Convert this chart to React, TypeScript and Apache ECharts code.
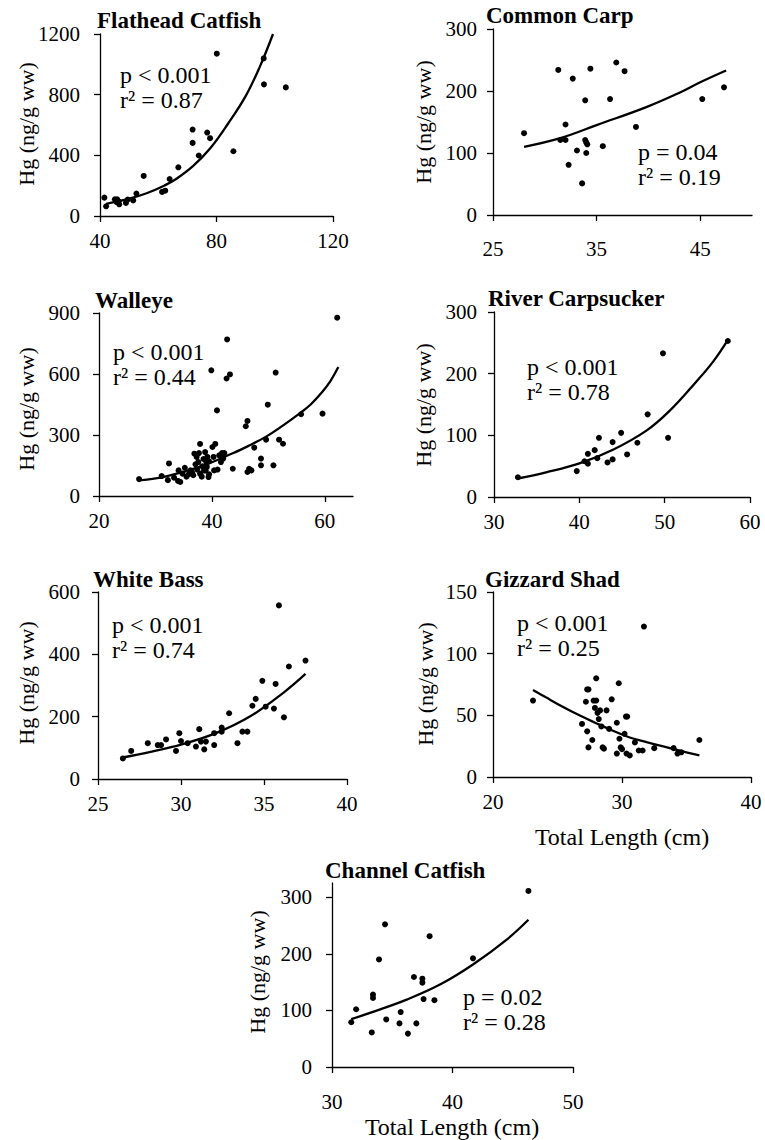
import React, { useEffect, useRef } from 'react';
import * as echarts from 'echarts';

// ---------- data (Total length cm, Hg ng/g ww) ----------
const flatheadPts = [[41.5,121],[42.1,64],[45.1,110],[45.7,92],[45.9,110],[46.4,97],[46.6,77],[48.9,86],[49.5,108],[51.4,103],[52.5,148],[55.0,264],[61.3,159],[62.4,167],[63.9,244],[66.9,321],[71.8,570],[71.8,482],[73.9,399],[76.8,550],[77.8,513],[80.1,1070],[85.8,427],[96.2,1039],[96.3,868],[103.8,848]];
const flatheadTrend = [[42.1,80],[50,114],[56,150],[62,200],[66,242],[72,330],[78,450],[84,610],[90,790],[95,990],[99.4,1200]];

const carpPts = [[28.0,132],[31.3,234],[31.5,121],[32.0,121],[32.0,146],[32.3,81],[32.7,220],[33.1,104],[33.6,51],[33.9,185],[33.9,121],[34.0,100],[34.0,117],[34.1,114],[34.4,236],[35.6,111],[36.3,187],[36.9,246],[37.7,232],[38.8,142],[44.7,302],[45.2,187],[47.3,206]];
const carpTrend = [[28,110],[31.5,124],[35,145],[39.8,174],[43.1,198],[45,214],[47.5,233]];

const walleyePts = [[27.1,83],[31.1,98],[32.4,160],[32.2,78],[33.3,90],[34.0,74],[34.4,69],[34.1,126],[34.8,110],[35.2,139],[35.5,95],[35.9,107],[36.2,126],[36.5,115],[36.7,102],[36.9,208],[37.1,156],[37.3,192],[37.4,130],[37.6,167],[37.7,211],[37.9,256],[37.9,110],[38.2,95],[38.3,146],[38.5,182],[38.6,125],[38.8,216],[38.9,126],[39.0,167],[39.1,143],[39.2,192],[39.4,93],[39.5,107],[39.5,170],[39.9,618],[40.1,241],[40.3,192],[40.4,126],[40.6,256],[40.9,421],[41.0,130],[41.3,200],[41.6,167],[41.8,211],[42.0,184],[42.2,211],[42.6,578],[42.7,770],[43.2,598],[43.7,134],[46.0,343],[46.3,369],[46.3,118],[46.6,134],[47.0,126],[47.5,238],[48.7,184],[48.7,151],[49.6,277],[49.9,449],[50.9,151],[51.3,607],[51.9,277],[52.6,257],[55.8,402],[59.6,405],[62.2,877]];
const walleyeTrend = [[27.1,77],[31.9,97],[37.8,143],[43.7,210],[46.6,248],[49.6,292],[52.5,345],[55.5,405],[57.5,450],[59.5,510],[61,565],[62.4,634]];

const carpsuckerPts = [[32.8,32],[39.7,42],[40.6,58],[41.0,70],[41.0,54],[41.8,76],[42.1,63],[42.3,96],[43.3,56],[43.9,89],[43.9,61],[44.9,104],[45.6,69],[46.8,88],[48.0,134],[49.8,233],[50.4,96],[57.4,253]];
const carpsuckerTrend = [[32.8,30],[36.1,40],[40.1,55],[44,77],[47.9,108],[50.6,140],[53.7,187],[55.7,220],[57.5,257]];

const whiteBassPts = [[26.5,66],[27.0,90],[28.0,115],[28.6,109],[28.8,109],[29.1,127],[29.7,90],[29.9,147],[30.0,122],[30.4,115],[30.9,104],[31.1,160],[31.2,120],[31.4,95],[31.5,120],[32.0,109],[32.0,147],[32.45,165],[32.45,152],[32.9,211],[33.4,115],[33.7,152],[34.0,152],[34.3,235],[34.5,257],[34.9,315],[35.1,232],[35.6,226],[35.7,305],[35.9,557],[36.2,198],[36.5,361],[37.5,380]];
const whiteBassTrend = [[26.5,69],[28.1,86],[30.1,112],[32.1,147],[34.2,202],[36.2,278],[37.5,337]];

const gizzardPts = [[23.1,62],[26.9,43],[27.2,61],[27.3,37],[27.3,71],[27.4,71],[27.4,24],[27.7,30],[27.8,62],[28.0,80],[28.0,62],[27.9,56],[28.1,52],[28.2,47],[28.3,54],[28.4,41],[28.5,24],[28.6,23],[28.8,54],[29.0,39],[29.2,63],[29.6,44],[29.6,19],[29.75,76],[29.8,31],[29.9,24],[30.0,22.6],[30.2,35],[30.3,49],[30.4,49],[30.35,19],[30.6,17.5],[31.0,28],[31.3,21.5],[31.6,21.5],[31.7,122],[32.5,23.4],[34.0,23.4],[34.3,19],[34.6,20],[36.0,30]];
const gizzardTrend = [[23.1,70.6],[24.1,64.6],[25.4,57],[26.7,50],[28,43.6],[29.3,37.5],[30.6,32],[31.9,28.3],[33.2,24.8],[34.5,21.3],[36,17.5]];

const channelPts = [[31.6,79],[32.0,102],[33.3,61],[33.4,128],[33.4,122],[33.9,190],[34.4,252],[34.5,84],[35.6,77],[35.7,97],[36.3,59],[36.8,159],[37.0,77],[37.5,156],[37.5,149],[37.6,120],[38.1,231],[38.5,118],[41.7,192],[46.3,311]];
const channelTrend = [[31.6,84.5],[33.4,97.4],[36.2,119],[39,146],[41.7,181],[44.5,225],[46.3,260]];

const titles = ['Flathead Catfish', 'Common Carp', 'Walleye', 'River Carpsucker', 'White Bass', 'Gizzard Shad', 'Channel Catfish'];
const pValues = ['p < 0.001', 'p = 0.04', 'p < 0.001', 'p < 0.001', 'p < 0.001', 'p < 0.001', 'p = 0.02'];
const r2Values = ['0.87', '0.19', '0.44', '0.78', '0.74', '0.25', '0.28'];
const xTickLabels = [[40, 80, 120], [25, 35, 45], [20, 40, 60], [30, 40, 50, 60], [25, 30, 35, 40], [20, 30, 40], [30, 40, 50]];
const yTickLabels = [[0, 400, 800, 1200], [0, 100, 200, 300], [0, 300, 600, 900], [0, 100, 200, 300], [0, 200, 400, 600], [0, 50, 100, 150], [0, 100, 200, 300]];
const xRanges = [[40, 120], [25, 50], [20, 65], [30, 60], [25, 40], [20, 40], [30, 50]];
const yRanges = [[0, 1200], [0, 300], [0, 900], [0, 300], [0, 600], [0, 150], [0, 325]];
const yAxisName = 'Hg (ng/g ww)';
const xAxisName = 'Total Length (cm)';

const allPts = [flatheadPts, carpPts, walleyePts, carpsuckerPts, whiteBassPts, gizzardPts, channelPts];
const allTrends = [flatheadTrend, carpTrend, walleyeTrend, carpsuckerTrend, whiteBassTrend, gizzardTrend, channelTrend];

// ---------- layout ----------
const FONT = '"Liberation Serif", "Times New Roman", Times, serif';
const grids = [
  { left: 100, top: 34, width: 233, height: 182 },
  { left: 493, top: 29, width: 259, height: 186 },
  { left: 99, top: 313, width: 254, height: 183 },
  { left: 494, top: 312, width: 256, height: 185 },
  { left: 98, top: 592, width: 249, height: 187 },
  { left: 493, top: 592, width: 258, height: 185 },
  { left: 332, top: 883, width: 241, height: 184 },
];
const xLabelMargins = [14, 23, 14, 14, 14, 14, 24];
const yLabelMargins = [20, 16, 19, 17, 18, 16, 20];
const titlePos = [[97, 20], [486, 15], [95, 300], [488, 298], [93, 579], [485, 579], [325, 870]];
const statPos = [[120, 75], [638, 152], [113, 352], [527, 367], [112, 625], [517, 623], [463, 997]];
const yNamePos = [[26, 124], [423, 122], [26, 409], [423, 405], [26, 683], [425, 684], [257, 972]];
const xNamePos = [[622, 837], [452, 1127]];

export default function App() {
  const ref = useRef<HTMLDivElement>(null);
  useEffect(() => {
    if (!ref.current) return;
    const chart = echarts.init(ref.current, undefined, { renderer: 'svg' });
    const axisLine = { show: true, onZero: false, lineStyle: { color: '#000', width: 1.3 } };
    const labelStyle = { fontSize: 21, fontFamily: FONT, color: '#000', formatter: (v: number) => String(v) };
    const xAxis = grids.map((_, i) => ({
      type: 'value', gridIndex: i, min: xRanges[i][0], max: xRanges[i][1],
      axisLine,
      axisTick: { show: true, length: 6, customValues: xTickLabels[i], lineStyle: { color: '#000', width: 1.3 } },
      axisLabel: { ...labelStyle, customValues: xTickLabels[i], margin: xLabelMargins[i] },
      splitLine: { show: false },
    }));
    const yAxis = grids.map((_, i) => ({
      type: 'value', gridIndex: i, min: yRanges[i][0], max: yRanges[i][1],
      axisLine,
      axisTick: { show: true, length: 6, customValues: yTickLabels[i], lineStyle: { color: '#000', width: 1.3 } },
      axisLabel: { ...labelStyle, customValues: yTickLabels[i], margin: yLabelMargins[i] },
      splitLine: { show: false },
    }));
    const series: any[] = [];
    allPts.forEach((pts, i) => {
      series.push({
        type: 'scatter', xAxisIndex: i, yAxisIndex: i, data: pts,
        symbolSize: 6, itemStyle: { color: '#000', opacity: 1 },
      });
      series.push({
        type: 'line', xAxisIndex: i, yAxisIndex: i, data: allTrends[i],
        smooth: 0.4, symbol: 'none', showSymbol: false,
        lineStyle: { color: '#000', width: 2.3 },
      });
    });
    const graphic: any[] = [];
    titles.forEach((t, i) => {
      graphic.push({ type: 'text', x: titlePos[i][0], y: titlePos[i][1],
        style: { text: t, font: `bold 23px ${FONT}`, fill: '#000', textAlign: 'left', textVerticalAlign: 'middle' } });
      graphic.push({ type: 'text', x: statPos[i][0], y: statPos[i][1],
        style: { text: pValues[i], font: `24px ${FONT}`, fill: '#000', textAlign: 'left', textVerticalAlign: 'middle' } });
      graphic.push({ type: 'text', x: statPos[i][0], y: statPos[i][1] + 25,
        style: { text: `r² = ${r2Values[i]}`, font: `24px ${FONT}`, fill: '#000', textAlign: 'left', textVerticalAlign: 'middle' } });
      graphic.push({ type: 'text', x: yNamePos[i][0], y: yNamePos[i][1], rotation: Math.PI / 2,
        style: { text: yAxisName, font: `22px ${FONT}`, fill: '#000', textAlign: 'center', textVerticalAlign: 'middle' } });
    });
    xNamePos.forEach((p) => {
      graphic.push({ type: 'text', x: p[0], y: p[1],
        style: { text: xAxisName, font: `24px ${FONT}`, fill: '#000', textAlign: 'center', textVerticalAlign: 'middle' } });
    });
    chart.setOption({
      animation: false,
      backgroundColor: '#fff',
      grid: grids.map((g) => ({ ...g, containLabel: false })),
      xAxis, yAxis, series, graphic,
    });
    return () => chart.dispose();
  }, []);
  return <div ref={ref} style={{ position: 'absolute', left: 0, top: 0, width: 765, height: 1140 }} />;
}
